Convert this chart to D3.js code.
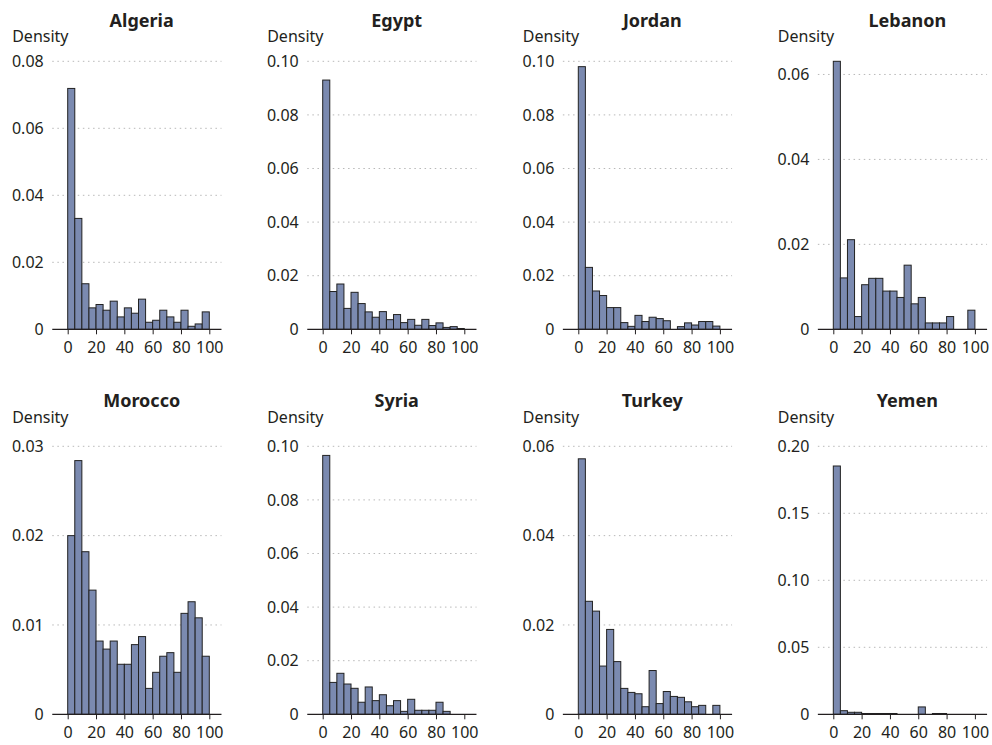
<!DOCTYPE html>
<html>
<head>
<meta charset="utf-8">
<script src="https://cdn.jsdelivr.net/npm/d3@7"></script>
<style>
  body { margin: 0; background: #fff; }
  text { font-family: "Noto Sans", sans-serif; fill: #231f20; }
</style>
</head>
<body>
<svg id="chart" width="992" height="745"></svg>
<script>
// Histogram densities, 20 bins of width 5 on 0..100
const countries = ["Algeria", "Egypt", "Jordan", "Lebanon", "Morocco", "Syria", "Turkey", "Yemen"];
const binStarts = [0, 5, 10, 15, 20, 25, 30, 35, 40, 45, 50, 55, 60, 65, 70, 75, 80, 85, 90, 95];
const binWidth = 5;
const xTicks = [0, 20, 40, 60, 80, 100];

const algeria = [0.0719, 0.0331, 0.0136, 0.0064, 0.0074, 0.0057, 0.0084, 0.0037, 0.0064, 0.0048,
                 0.0090, 0.0021, 0.0027, 0.0057, 0.0037, 0.0021, 0.0057, 0.0009, 0.0016, 0.0052];
const egypt   = [0.0930, 0.0141, 0.0169, 0.0078, 0.0138, 0.0096, 0.0065, 0.0045, 0.0066, 0.0036,
                 0.0055, 0.0025, 0.0037, 0.0015, 0.0037, 0.0014, 0.0024, 0.0007, 0.0010, 0.0003];
const jordan  = [0.0980, 0.0231, 0.0143, 0.0126, 0.0081, 0.0081, 0.0025, 0.0011, 0.0052, 0.0029,
                 0.0045, 0.0040, 0.0032, 0.0000, 0.0010, 0.0024, 0.0016, 0.0029, 0.0029, 0.0012];
const lebanon = [0.0631, 0.0121, 0.0211, 0.0030, 0.0105, 0.0120, 0.0120, 0.0090, 0.0090, 0.0075,
                 0.0151, 0.0060, 0.0075, 0.0015, 0.0015, 0.0015, 0.0030, 0.0000, 0.0000, 0.0045];
const morocco = [0.0200, 0.0284, 0.0182, 0.0139, 0.0082, 0.0073, 0.0082, 0.0056, 0.0056, 0.0078,
                 0.0087, 0.0029, 0.0047, 0.0065, 0.0069, 0.0047, 0.0113, 0.0126, 0.0108, 0.0065];
const syria   = [0.0966, 0.0119, 0.0153, 0.0113, 0.0097, 0.0045, 0.0102, 0.0051, 0.0073, 0.0032,
                 0.0051, 0.0011, 0.0056, 0.0015, 0.0015, 0.0015, 0.0045, 0.0011, 0.0000, 0.0000];
const turkey  = [0.0572, 0.0253, 0.0231, 0.0108, 0.0190, 0.0118, 0.0058, 0.0049, 0.0046, 0.0017,
                 0.0098, 0.0024, 0.0051, 0.0040, 0.0038, 0.0028, 0.0017, 0.0020, 0.0000, 0.0020];
const yemen   = [0.1853, 0.0027, 0.0015, 0.0015, 0.0006, 0.0006, 0.0006, 0.0006, 0.0006, 0.0000,
                 0.0000, 0.0000, 0.0055, 0.0000, 0.0006, 0.0006, 0.0000, 0.0000, 0.0000, 0.0000];

const algeriaTicks = [0, 0.02, 0.04, 0.06, 0.08];
const egyptTicks   = [0, 0.02, 0.04, 0.06, 0.08, 0.10];
const jordanTicks  = [0, 0.02, 0.04, 0.06, 0.08, 0.10];
const lebanonTicks = [0, 0.02, 0.04, 0.06];
const moroccoTicks = [0, 0.01, 0.02, 0.03];
const syriaTicks   = [0, 0.02, 0.04, 0.06, 0.08, 0.10];
const turkeyTicks  = [0, 0.02, 0.04, 0.06];
const yemenTicks   = [0, 0.05, 0.10, 0.15, 0.20];

const densities = [algeria, egypt, jordan, lebanon, morocco, syria, turkey, yemen];
const tickSets = [algeriaTicks, egyptTicks, jordanTicks, lebanonTicks,
                  moroccoTicks, syriaTicks, turkeyTicks, yemenTicks];

// Panel geometry
const colX0 = [67.7, 322.7, 578.3, 833.3];   // pixel position of x = 0 in each column
const rowBase = [329.3, 714.3];             // baseline (y = 0) of each row
const plotH = 268;
const xSpan = 141.6;                        // pixels from 0 to 100
const titleY = [26.7, 406.7];
const densityY = [41.5, 422.5];
const densityDx = -55.5;

const fillColor = "#7b8ab0";
const edgeColor = "#222222";
const gridColor = "#b8b8b8";

const svg = d3.select("#chart");

countries.forEach((name, i) => {
  const col = i % 4, row = Math.floor(i / 4);
  const x0 = colX0[col], base = rowBase[row];
  const values = densities[i];
  const ticks = tickSets[i];

  const x = d3.scaleLinear().domain([0, 100]).range([x0, x0 + xSpan]);
  const yTop = Math.max(d3.max(values), ticks[ticks.length - 1]);
  const y = d3.scaleLinear().domain([0, yTop]).range([base, base - plotH]);

  const g = svg.append("g").attr("class", "panel");
  const lineFrom = x(-10.9), lineTo = x(108.6);

  // dotted horizontal gridlines
  g.append("g").selectAll("line")
    .data(ticks.filter(t => t > 0))
    .join("line")
    .attr("x1", lineFrom).attr("x2", lineTo)
    .attr("y1", d => y(d)).attr("y2", d => y(d))
    .attr("stroke", gridColor)
    .attr("stroke-width", 1)
    .attr("stroke-dasharray", "1.5,3.6");

  // histogram bars
  const bins = binStarts.map((s, k) => ({ start: s, value: values[k] })).filter(d => d.value > 0);
  g.append("g").selectAll("rect")
    .data(bins)
    .join("rect")
    .attr("x", d => x(d.start))
    .attr("width", d => x(d.start + binWidth) - x(d.start))
    .attr("y", d => y(d.value))
    .attr("height", d => y(0) - y(d.value))
    .attr("fill", fillColor)
    .attr("stroke", edgeColor)
    .attr("stroke-width", 1);

  // x axis
  const xAxis = d3.axisBottom(x).tickValues(xTicks).tickSize(5).tickPadding(7.5).tickFormat(d3.format("d"));
  const ax = g.append("g").attr("transform", `translate(0,${base})`).call(xAxis);
  ax.select(".domain").remove();
  ax.selectAll(".tick line").attr("stroke", "#231f20");
  ax.selectAll("text").attr("font-size", 16).attr("font-family", "Noto Sans, sans-serif").attr("fill", "#231f20");
  g.append("line")
    .attr("x1", lineFrom).attr("x2", lineTo)
    .attr("y1", base).attr("y2", base)
    .attr("stroke", "#231f20").attr("stroke-width", 1.3);

  // y tick labels
  const yAxis = d3.axisLeft(y).tickValues(ticks).tickSize(0).tickPadding(24)
    .tickFormat(v => v === 0 ? "0" : d3.format(".2f")(v));
  const ay = g.append("g").attr("transform", `translate(${x0},0)`).call(yAxis);
  ay.select(".domain").remove();
  ay.selectAll("text").attr("font-size", 16).attr("font-family", "Noto Sans, sans-serif").attr("fill", "#231f20");

  // titles
  g.append("text")
    .attr("x", x0 + 74).attr("y", titleY[row])
    .attr("text-anchor", "middle")
    .attr("font-size", 18).attr("font-weight", "bold")
    .text(name);
  g.append("text")
    .attr("x", x0 + densityDx).attr("y", densityY[row])
    .attr("font-size", 16)
    .text("Density");
});
</script>
</body>
</html>
